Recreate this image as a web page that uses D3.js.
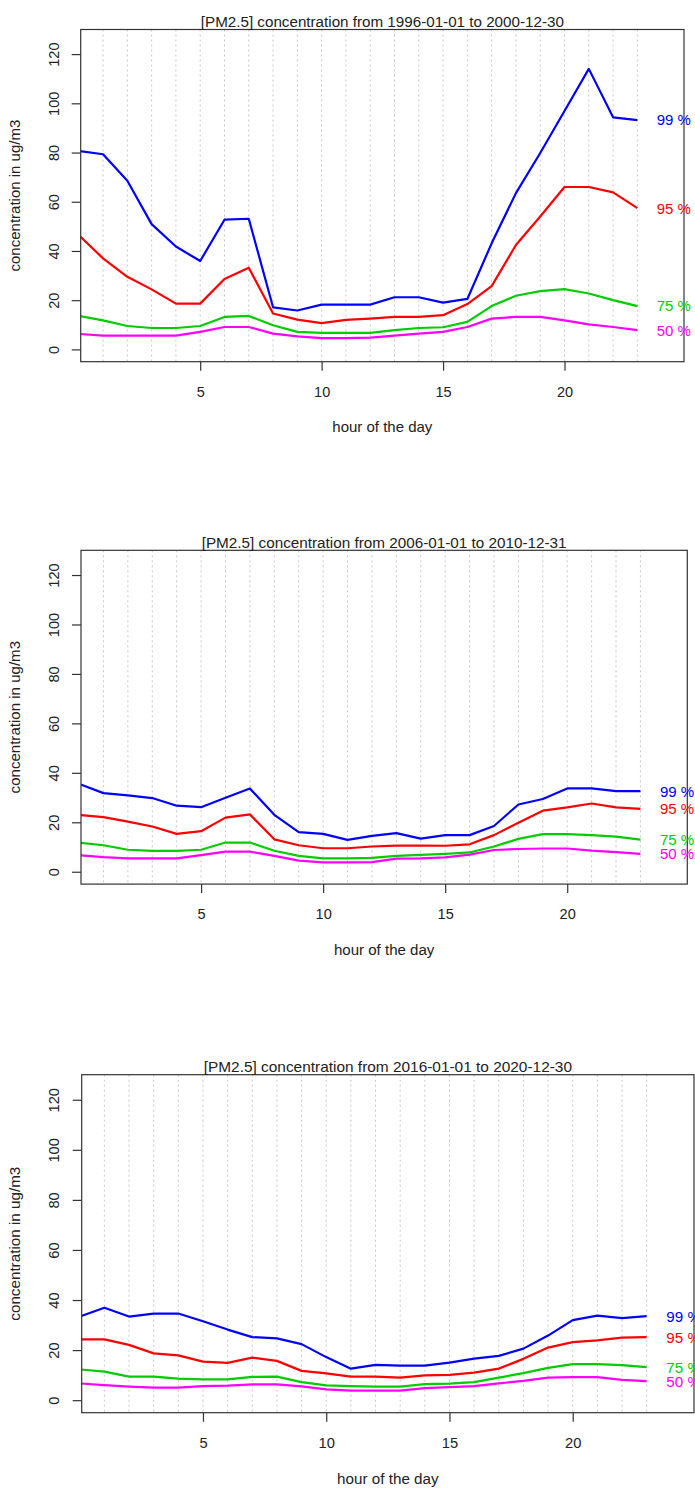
<!DOCTYPE html>
<html>
<head>
<meta charset="utf-8">
<script src="https://cdn.jsdelivr.net/npm/d3@7"></script>
<style>
  html, body { margin: 0; padding: 0; background: #ffffff; }
  svg { display: block; }
  text { font-family: "Liberation Sans", Arial, sans-serif; }
</style>
</head>
<body>
<svg id="chart" width="695" height="1488"></svg>
<script>
// ---------- data ----------
const hours = [0,1,2,3,4,5,6,7,8,9,10,11,12,13,14,15,16,17,18,19,20,21,22,23];
const xTicks = [5, 10, 15, 20];
const yTicks = [0, 20, 40, 60, 80, 100, 120];
const gridHours = [1,2,3,4,5,6,7,8,9,10,11,12,13,14,15,16,17,18,19,20,21,22,23];
const seriesNames = ["99 %", "95 %", "75 %", "50 %"];
const seriesColors = ["#0000ff", "#ff0000", "#00cd00", "#ff00ff"];
const titles = [
  "[PM2.5] concentration from 1996-01-01 to 2000-12-30",
  "[PM2.5] concentration from 2006-01-01 to 2010-12-31",
  "[PM2.5] concentration from 2016-01-01 to 2020-12-30"
];
const xLabel = "hour of the day";
const yLabel = "concentration in ug/m3";

const p1_99 = [80.6, 79.3, 68.5, 50.9, 41.8, 35.9, 52.7, 53.1, 17.1, 15.8, 18.2, 18.2, 18.2, 21.2, 21.2, 19.0, 20.5, 43.1, 63.5, 79.8, 96.9, 114.0, 94.3, 93.2];
const p1_95 = [46.5, 37.0, 29.5, 24.4, 18.6, 18.6, 28.6, 33.2, 14.6, 12.1, 10.7, 12.0, 12.5, 13.2, 13.2, 13.9, 18.4, 25.7, 42.4, 54.0, 66.0, 66.0, 63.8, 57.4];
const p1_75 = [13.6, 11.8, 9.5, 8.7, 8.7, 9.5, 13.2, 13.6, 9.8, 7.1, 6.7, 6.7, 6.7, 7.8, 8.7, 9.0, 11.2, 17.6, 21.8, 23.7, 24.5, 22.7, 20.0, 17.6];
const p1_50 = [6.3, 5.6, 5.6, 5.6, 5.6, 7.1, 9.1, 9.1, 6.4, 5.3, 4.6, 4.6, 4.8, 5.6, 6.4, 7.1, 9.1, 12.5, 13.2, 13.2, 11.8, 10.2, 9.1, 7.8];

const p2_99 = [35.5, 31.8, 30.9, 29.8, 26.7, 26.1, 29.9, 33.7, 23.0, 16.0, 15.3, 12.9, 14.5, 15.6, 13.4, 14.8, 14.8, 18.5, 27.2, 29.4, 33.7, 33.7, 32.6, 32.6];
const p2_95 = [23.0, 22.1, 20.3, 18.3, 15.3, 16.4, 21.9, 23.2, 13.1, 10.7, 9.5, 9.5, 10.2, 10.6, 10.6, 10.5, 11.1, 14.8, 19.8, 24.7, 26.0, 27.6, 26.0, 25.4];
const p2_75 = [11.8, 10.7, 8.9, 8.4, 8.4, 8.9, 11.8, 11.8, 8.5, 6.4, 5.4, 5.4, 5.6, 6.4, 6.8, 7.2, 7.8, 10.2, 13.3, 15.2, 15.2, 14.8, 14.2, 13.0];
const p2_50 = [6.7, 5.9, 5.4, 5.4, 5.4, 6.7, 8.1, 8.1, 6.4, 4.5, 3.8, 3.8, 3.9, 5.3, 5.4, 5.8, 6.9, 8.8, 9.2, 9.4, 9.4, 8.5, 7.9, 7.2];

const p3_99 = [33.4, 36.9, 33.4, 34.6, 34.6, 31.5, 28.2, 25.2, 24.7, 22.4, 17.2, 12.6, 14.1, 13.8, 13.8, 15.0, 16.6, 17.7, 20.6, 25.8, 32.0, 33.8, 32.8, 33.6];
const p3_95 = [24.3, 24.3, 22.1, 18.7, 17.9, 15.4, 14.9, 17.0, 15.7, 11.7, 10.7, 9.4, 9.4, 9.0, 9.9, 10.1, 11.0, 12.6, 16.5, 21.0, 23.2, 23.9, 25.0, 25.2];
const p3_75 = [12.3, 11.4, 9.4, 9.4, 8.6, 8.3, 8.3, 9.3, 9.4, 7.2, 5.9, 5.6, 5.4, 5.4, 6.4, 6.6, 7.2, 9.0, 10.8, 12.9, 14.4, 14.4, 14.0, 13.2];
const p3_50 = [6.7, 6.0, 5.4, 5.0, 5.0, 5.6, 5.8, 6.3, 6.3, 5.5, 4.3, 3.8, 3.8, 3.8, 4.8, 5.2, 5.6, 6.7, 7.7, 9.0, 9.2, 9.2, 8.1, 7.6];

const xLimits = [1, 24];
const yLimits = [0, 125];
const labelHour = 24.5;

// ---------- layout ----------
const panels = [
  { title: titles[0], series: [p1_99, p1_95, p1_75, p1_50], box: { l: 80.7, t: 29.5, r: 684, b: 361.7 }, k: 1.0 },
  { title: titles[1], series: [p2_99, p2_95, p2_75, p2_50], box: { l: 81, t: 550.3, r: 687.3, b: 884.1 }, k: 1.005 },
  { title: titles[2], series: [p3_99, p3_95, p3_75, p3_50], box: { l: 81.7, t: 1074.7, r: 694, b: 1412.7 }, k: 1.015 }
];

function ext(lim) { const d = (lim[1] - lim[0]) * 0.04; return [lim[0] - d, lim[1] + d]; }

const svg = d3.select("#chart");
const FONT = '"Liberation Sans", Arial, sans-serif';

panels.forEach((p, pi) => {
  const B = p.box, k = p.k;
  const x = d3.scaleLinear().domain(ext(xLimits)).range([B.l, B.r]);
  const y = d3.scaleLinear().domain(ext(yLimits)).range([B.b, B.t]);
  const g = svg.append("g");

  const clipId = "clip" + pi;
  g.append("clipPath").attr("id", clipId)
    .append("rect").attr("x", B.l).attr("y", B.t).attr("width", B.r - B.l).attr("height", B.b - B.t);

  // vertical dotted grid
  g.append("g").selectAll("line").data(gridHours).join("line")
    .attr("x1", d => x(d)).attr("x2", d => x(d))
    .attr("y1", B.t).attr("y2", B.b)
    .attr("stroke", "#c8c8c8").attr("stroke-width", 1)
    .attr("stroke-dasharray", "2,3");

  // lines
  const line = d3.line().x((d, i) => x(hours[i])).y(d => y(d));
  g.append("g").attr("clip-path", `url(#${clipId})`)
    .selectAll("path").data(p.series).join("path")
    .attr("d", d => line(d))
    .attr("fill", "none")
    .attr("stroke", (d, i) => seriesColors[i])
    .attr("stroke-width", 2.2)
    .attr("stroke-linejoin", "round");

  // box
  g.append("rect").attr("x", B.l).attr("y", B.t).attr("width", B.r - B.l).attr("height", B.b - B.t)
    .attr("fill", "none").attr("stroke", "#333").attr("stroke-width", 1.2);

  // x axis
  const xAxis = d3.axisBottom(x).tickValues(xTicks).tickSize(9).tickPadding(0).tickFormat(d3.format("d"));
  const xa = g.append("g").attr("transform", `translate(0,${B.b})`).call(xAxis);
  xa.select(".domain").remove();
  xa.selectAll(".tick line").attr("stroke", "#333").attr("stroke-width", 1.2);
  xa.selectAll(".tick text").attr("y", 35 * k).attr("dy", null)
    .style("font-size", (14.5 * k) + "px").style("font-family", FONT).style("fill", "#222");

  // y axis
  const yAxis = d3.axisLeft(y).tickValues(yTicks).tickSize(9).tickFormat(d3.format("d"));
  const ya = g.append("g").attr("transform", `translate(${B.l},0)`).call(yAxis);
  ya.select(".domain").remove();
  ya.selectAll(".tick line").attr("stroke", "#333").attr("stroke-width", 1.2);
  ya.selectAll(".tick text")
    .attr("x", null).attr("dy", null)
    .attr("text-anchor", "middle")
    .attr("transform", `translate(${-22 * k},0) rotate(-90)`)
    .style("font-size", (14.5 * k) + "px").style("font-family", FONT).style("fill", "#222");

  // title
  g.append("text").attr("x", (B.l + B.r) / 2).attr("y", B.t - 2.7)
    .attr("text-anchor", "middle").style("font-size", (15.2 * k) + "px").style("fill", "#222").text(p.title);

  // x label
  g.append("text").attr("x", (B.l + B.r) / 2).attr("y", B.b + 70.5 * k)
    .attr("text-anchor", "middle").style("font-size", (15 * k) + "px").style("fill", "#222").text(xLabel);

  // y label
  g.append("text")
    .attr("transform", `translate(${B.l - 60.5 * k},${(B.t + B.b) / 2}) rotate(-90)`)
    .attr("text-anchor", "middle").style("font-size", (15 * k) + "px").style("fill", "#222").text(yLabel);

  // series labels at right
  g.append("g").selectAll("text").data(p.series).join("text")
    .attr("x", x(labelHour))
    .attr("y", d => y(d[d.length - 1]))
    .attr("dy", "0.36em")
    .attr("text-anchor", "middle")
    .style("font-size", (15 * k) + "px")
    .style("fill", (d, i) => seriesColors[i])
    .text((d, i) => seriesNames[i]);
});
</script>
</body>
</html>
